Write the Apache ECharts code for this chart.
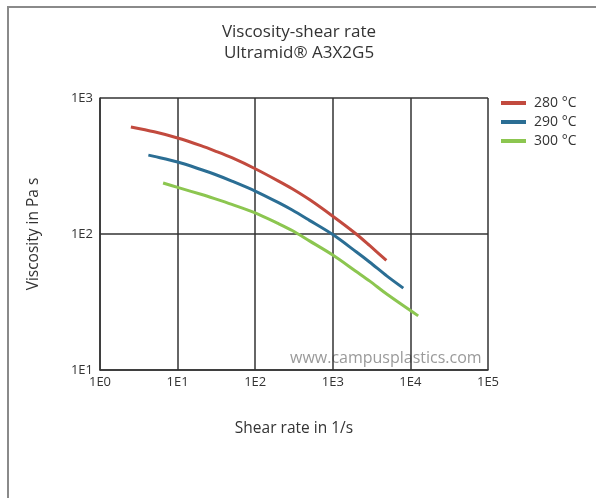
<!DOCTYPE html>
<html>
<head>
<meta charset="utf-8">
<script src="https://cdn.jsdelivr.net/npm/echarts@6/dist/echarts.min.js"></script>
<style>
html,body{margin:0;padding:0;background:#fff;}
#c{width:596px;height:498px;}
</style>
</head>
<body>
<div id="c"></div>
<script>
var seriesNames = ['280 °C', '290 °C', '300 °C'];
var shear280 = [2.5, 5, 10, 20, 30, 50, 100, 200, 300, 500, 1000, 2000, 3000, 4900];
var visc280  = [612, 564, 508, 446, 409, 364, 302, 245, 215, 179, 135, 100, 82, 64];
var shear290 = [4.2, 5, 10, 20, 30, 50, 100, 200, 300, 500, 1000, 2000, 3000, 5000, 8100];
var visc290  = [380, 372, 338, 298, 275, 245, 207, 170, 150, 126, 99, 74, 62, 49, 40];
var shear300 = [6.5, 10, 20, 30, 50, 100, 200, 300, 500, 1000, 2000, 3000, 5000, 12600];
var visc300  = [237, 220, 196, 182, 165, 143, 119, 106, 89, 70, 53, 45, 36, 25];
var xTickLabels = ['1E0', '1E1', '1E2', '1E3', '1E4', '1E5'];
var yTickLabels = ['1E1', '1E2', '1E3'];
var colors = ['#c24a3e', '#2b6e94', '#8cc650'];

function pairs(xs, ys){ return xs.map(function(x,i){ return [x, ys[i]]; }); }
var font = '"Open Sans", "Noto Sans", sans-serif';

var chart = echarts.init(document.getElementById('c'), null, {renderer:'canvas'});
chart.setOption({
  animation: false,
  backgroundColor: '#fff',
  title: {
    text: 'Viscosity-shear rate\nUltramid® A3X2G5',
    left: 294, top: 17, textAlign: 'center',
    textStyle: {fontFamily: font, fontSize: 17, fontWeight: 'normal', color: '#333', lineHeight: 21}
  },
  legend: {
    orient: 'vertical', left: 496, top: 91, itemWidth: 25, itemHeight: 4, itemGap: 5,
    icon: 'rect',
    textStyle: {fontFamily: font, fontSize: 14, color: '#333', padding: [0,0,0,3]},
    data: seriesNames
  },
  grid: {left: 100, right: 108, top: 98, bottom: 128, containLabel: false},
  xAxis: {
    type: 'log', logBase: 10, min: 1, max: 100000,
    name: 'Shear rate in 1/s', nameLocation: 'middle', nameGap: 51,
    nameTextStyle: {fontFamily: font, fontSize: 15.5, color: '#333'},
    axisLine: {show: true, lineStyle: {color: '#333', width: 1.5}},
    axisTick: {show: false},
    minorTick: {show: false},
    splitLine: {show: true, lineStyle: {color: '#333', width: 1.5}},
    axisLabel: {
      fontFamily: font, fontSize: 13, color: '#333', margin: 6,
      formatter: function(v){ return xTickLabels[Math.round(Math.log10(v))]; }
    }
  },
  yAxis: {
    type: 'log', logBase: 10, min: 10, max: 1000,
    name: 'Viscosity in Pa s', nameLocation: 'middle', nameGap: 58,
    nameTextStyle: {fontFamily: font, fontSize: 15.5, color: '#333'},
    axisLine: {show: true, lineStyle: {color: '#333', width: 1.5}},
    axisTick: {show: false},
    splitLine: {show: true, lineStyle: {color: '#333', width: 1.5}},
    axisLabel: {
      fontFamily: font, fontSize: 13, color: '#333', margin: 7,
      formatter: function(v){ return yTickLabels[Math.round(Math.log10(v)) - 1]; }
    }
  },
  series: [
    {name: seriesNames[0], type: 'line', smooth: 0.3, symbol: 'none', data: pairs(shear280, visc280), lineStyle: {color: colors[0], width: 3}, itemStyle: {color: colors[0]}},
    {name: seriesNames[1], type: 'line', smooth: 0.3, symbol: 'none', data: pairs(shear290, visc290), lineStyle: {color: colors[1], width: 3}, itemStyle: {color: colors[1]}},
    {name: seriesNames[2], type: 'line', smooth: 0.3, symbol: 'none', data: pairs(shear300, visc300), lineStyle: {color: colors[2], width: 3}, itemStyle: {color: colors[2]}}
  ],
  graphic: [
    {type: 'line', shape: {x1: 7, y1: 7, x2: 596, y2: 7}, style: {stroke: '#8a8a8a', lineWidth: 2}},
    {type: 'line', shape: {x1: 8, y1: 7, x2: 8, y2: 498}, style: {stroke: '#8a8a8a', lineWidth: 2}},
    {type: 'text', left: 290, top: 350, style: {text: 'www.campusplastics.com', fontFamily: font, fontSize: 16, fill: '#9a9a9a'}}
  ]
});
</script>
</body>
</html>
